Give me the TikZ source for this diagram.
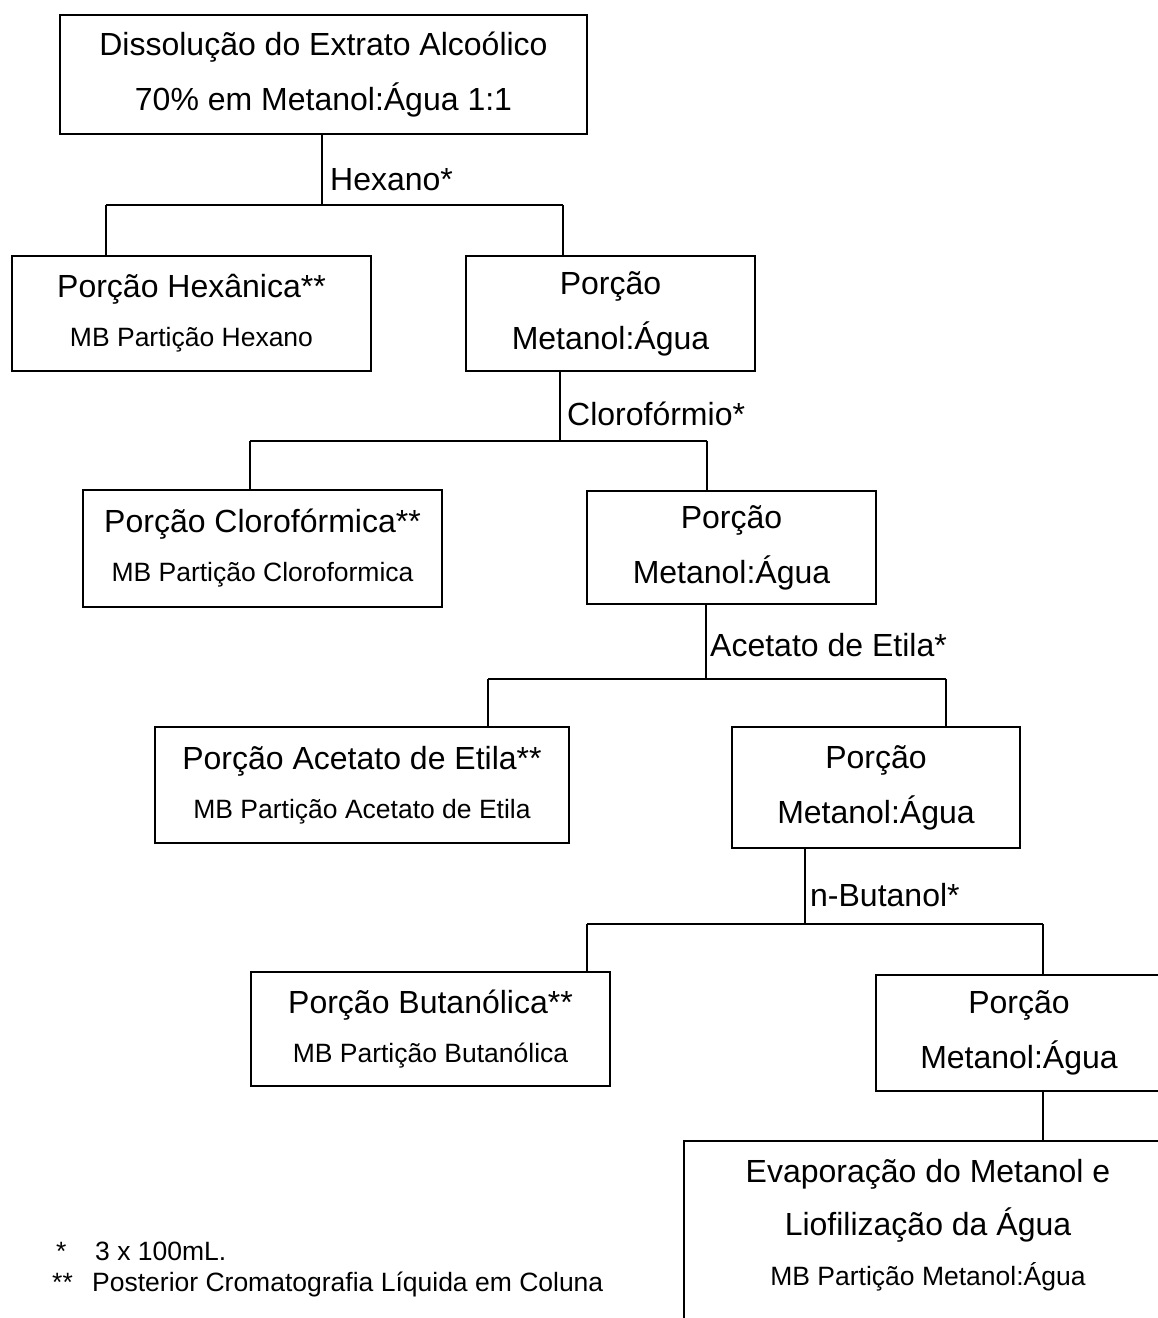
\documentclass[tikz,border=0pt]{standalone}
\usepackage{fontspec}
\setmainfont{Liberation Sans}
\newcommand\fbig{\fontsize{32}{55}\selectfont}
\newcommand\fsmall{\fontsize{26.5}{47}\selectfont}
\begin{document}
\begin{tikzpicture}[x=1pt,y=-1pt,
  box/.style={draw, line width=2pt, align=center, inner sep=0pt, font=\fbig},
  conn/.style={line width=2pt},
  lbl/.style={anchor=west, inner sep=0pt, font=\fbig},
  foot/.style={anchor=base west, inner sep=0pt, font=\fsmall}]
\useasboundingbox (0,0) rectangle (1158,1318);
\clip (0,0) rectangle (1158,1318);

% boxes
\node[box, minimum width=527, minimum height=119] (b1) at (323.5,74.5)
  {Dissolução do Extrato Alcoólico\\70\% em Metanol:Água 1:1};
\node[box, minimum width=359, minimum height=115] (hex) at (191.5,313.5)
  {Porção Hexânica**\\[-6pt]\fsmall MB Partição Hexano};
\node[box, minimum width=289, minimum height=115] (ma1) at (610.5,313.5)
  {Porção\\Metanol:Água};
\node[box, minimum width=359, minimum height=117] (clo) at (262.5,548.5)
  {Porção Clorofórmica**\\[-6pt]\fsmall MB Partição Cloroformica};
\node[box, minimum width=289, minimum height=113] (ma2) at (731.5,547.5)
  {Porção\\Metanol:Água};
\node[box, minimum width=414, minimum height=116] (ace) at (362,785)
  {Porção Acetato de Etila**\\[-6pt]\fsmall MB Partição Acetato de Etila};
\node[box, minimum width=288, minimum height=121] (ma3) at (876,787.5)
  {Porção\\Metanol:Água};
\node[box, minimum width=359, minimum height=114] (but) at (430.5,1029)
  {Porção Butanólica**\\[-6pt]\fsmall MB Partição Butanólica};
\node[box, minimum width=286, minimum height=116] (ma4) at (1019,1033)
  {Porção\\Metanol:Água};
\node[box, anchor=north west, minimum width=490, minimum height=230] (fin) at (683,1140) {};
\node[inner sep=0pt, align=center, font=\fbig, anchor=base] (fintxt) at (928,1285)
  {Evaporação do Metanol e\\[-2pt]Liofilização da Água\\[-5pt]\fsmall MB Partição Metanol:Água};

% junction coordinates
\coordinate (j1) at (322,205);
\coordinate (j1l) at (106,205);
\coordinate (j1r) at (563,205);
\coordinate (j2) at (560,441);
\coordinate (j2l) at (250,441);
\coordinate (j2r) at (707,441);
\coordinate (j3) at (706,679);
\coordinate (j3l) at (488,679);
\coordinate (j3r) at (946,679);
\coordinate (j4) at (805,924);
\coordinate (j4l) at (587,924);
\coordinate (j4r) at (1043,924);

% connectors
\draw[conn] (j1 |- b1.south) -- (j1);
\draw[conn] (j1l) -- (j1r);
\draw[conn] (j1l) -- (j1l |- hex.north);
\draw[conn] (j1r) -- (j1r |- ma1.north);

\draw[conn] (j2 |- ma1.south) -- (j2);
\draw[conn] (j2l) -- (j2r);
\draw[conn] (j2l) -- (j2l |- clo.north);
\draw[conn] (j2r) -- (j2r |- ma2.north);

\draw[conn] (j3 |- ma2.south) -- (j3);
\draw[conn] (j3l) -- (j3r);
\draw[conn] (j3l) -- (j3l |- ace.north);
\draw[conn] (j3r) -- (j3r |- ma3.north);

\draw[conn] (j4 |- ma3.south) -- (j4);
\draw[conn] (j4l) -- (j4r);
\draw[conn] (j4l) -- (j4l |- but.north);
\draw[conn] (j4r) -- (j4r |- ma4.north);

\draw[conn] (j4r |- ma4.south) -- (j4r |- fin.north);

% labels
\node[lbl] (lhex) at (330,180) {Hexano*};
\node[lbl] (lclo) at (567,414) {Clorofórmio*};
\node[lbl] (lace) at (710,645) {Acetato de Etila*};
\node[lbl] (lbut) at (810,895) {n-Butanol*};

% footnotes
\node[foot] (f1) at (54,1260) {\makebox[41pt][l]{\hspace{2pt}*}3 x 100mL.};
\node[foot] (f2) at (52,1291) {\makebox[40pt][l]{**}Posterior Cromatografia Líquida em Coluna};
\end{tikzpicture}
\end{document}
